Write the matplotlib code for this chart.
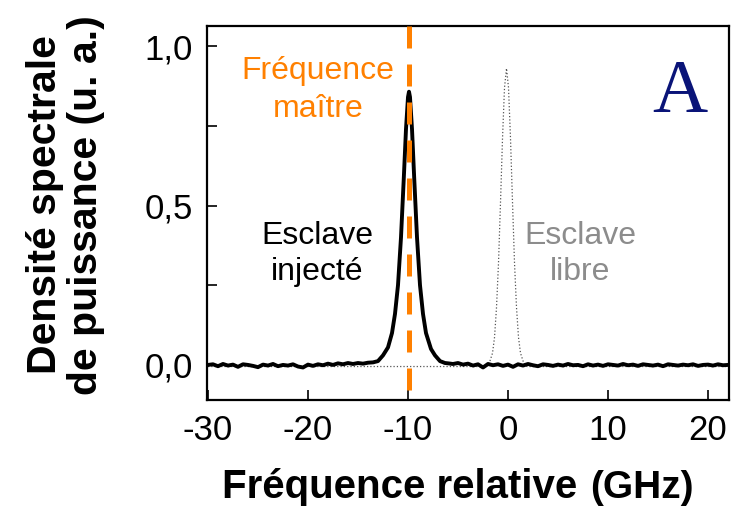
import matplotlib
matplotlib.use("Agg")
import matplotlib.pyplot as plt
from matplotlib.ticker import MultipleLocator, FixedLocator

plt.rcParams['font.family'] = ['Liberation Sans', 'DejaVu Sans']
plt.rcParams['axes.unicode_minus'] = False

# --- DATA ---
# injected slave spectrum (black solid line), GHz vs a.u.
inj_x = [-30.0, -29.5, -29.0, -28.5, -28.0, -27.5, -27.0, -26.5, -26.0, -25.5,
         -25.0, -24.5, -24.0, -23.5, -23.0, -22.5, -22.0, -21.5, -21.0, -20.5,
         -20.0, -19.5, -19.0, -18.5, -18.0, -17.5, -17.0, -16.5, -16.0, -15.5,
         -15.0, -14.5, -14.0, -13.5,
         -13.0, -12.5, -12.0, -11.6, -11.3, -11.0, -10.7, -10.4, -10.2, -10.0,
         -9.9, -9.8, -9.6, -9.4, -9.1, -8.8, -8.5, -8.2, -7.7, -7.3, -6.8, -6.3,
         -6.0, -5.5, -5.0, -4.5, -4.0, -3.5, -3.0, -2.5, -2.0, -1.5,
         -1.0, -0.5, 0.0, 0.5, 1.0, 1.5, 2.0, 2.5, 3.0, 3.5,
         4.0, 4.5, 5.0, 5.5, 6.0, 6.5, 7.0, 7.5, 8.0, 8.5,
         9.0, 9.5, 10.0, 10.5, 11.0, 11.5, 12.0, 12.5, 13.0, 13.5,
         14.0, 14.5, 15.0, 15.5, 16.0, 16.5, 17.0, 17.5, 18.0, 18.5,
         19.0, 19.5, 20.0, 20.5, 21.0, 21.5, 22.0]
inj_y = [0.000, 0.002, -0.004, 0.003, -0.002, 0.001, -0.006, 0.002, 0.000, -0.003,
         -0.007, 0.001, -0.002, 0.003, -0.004, 0.000, -0.002, 0.002, -0.005, -0.008,
         0.001, -0.003, 0.002, -0.001, 0.004, 0.000, 0.005, 0.002, 0.006, 0.003,
         0.006, 0.004, 0.007, 0.008,
         0.012, 0.030, 0.055, 0.100, 0.160, 0.250, 0.400, 0.600, 0.740, 0.840,
         0.857, 0.840, 0.740, 0.600, 0.400, 0.250, 0.160, 0.100, 0.050, 0.030, 0.012, 0.006,
         0.005, 0.003, 0.006, 0.001, 0.004, -0.002, 0.002, -0.008, 0.003, -0.001,
         0.002, -0.003, 0.001, -0.006, 0.002, -0.002, 0.003, -0.001, -0.004, 0.002,
         0.000, -0.003, 0.001, -0.002, 0.003, -0.001, 0.000, -0.004, 0.002, -0.002,
         0.001, -0.003, 0.002, 0.000, -0.002, 0.003, -0.001, 0.001, -0.003, 0.002,
         0.000, -0.002, 0.001, -0.004, 0.002, 0.000, -0.002, 0.001, -0.001, 0.002,
         -0.003, 0.000, 0.001, -0.002, 0.002, -0.001, 0.000]

# free-running slave spectrum (grey dotted line)
free_x = [-30.0, -20.0, -10.0, -4.0, -2.2, -1.85, -1.55, -1.35, -1.15, -0.95,
          -0.75, -0.55, -0.35, -0.15, 0.05, 0.25, 0.45, 0.65, 0.85, 1.05,
          1.25, 1.55, 1.9, 4.0, 10.0, 22.0]
free_y = [-0.005, -0.005, -0.005, -0.005, -0.005, 0.008, 0.037, 0.086, 0.180, 0.320,
          0.510, 0.710, 0.870, 0.930, 0.870, 0.710, 0.510, 0.320, 0.180, 0.086,
          0.037, 0.008, -0.005, -0.005, -0.005, -0.005]

master_freq = -9.9
x_ticks = [-30, -20, -10, 0, 10, 20]
y_ticks = [0.0, 0.5, 1.0]
y_tick_labels = ['0,0', '0,5', '1,0']

ORANGE = '#FF8000'
GREY_TXT = '#8C8C8C'
NAVY = '#0A1478'

# --- FIGURE ---
fig = plt.figure(figsize=(7.4, 5.15), dpi=100)
ax = fig.add_axes([0.2797, 0.2233, 0.7048, 0.7262])

ax.plot(free_x, free_y, color='#555555', linestyle=':', linewidth=0.9, zorder=1)
ax.plot(inj_x, inj_y, color='black', linewidth=2.8, zorder=2)
ax.plot([master_freq, master_freq], [1.063, -0.11], color=ORANGE, linewidth=3.6,
        dashes=(4.4, 3.2), zorder=3, clip_on=False)

ax.set_xlim(-30.1, 22.05)
ax.set_ylim(-0.11, 1.063)

ax.xaxis.set_major_locator(FixedLocator(x_ticks))
ax.yaxis.set_major_locator(FixedLocator(y_ticks))
ax.set_yticklabels(y_tick_labels)
ax.yaxis.set_minor_locator(MultipleLocator(0.25))

ax.tick_params(axis='both', which='both', direction='in', length=7, width=1.2,
               labelsize=25, top=False, right=False)
ax.tick_params(axis='x', pad=10)
ax.tick_params(axis='y', pad=10)
for sp in ax.spines.values():
    sp.set_linewidth(1.6)

# annotations inside axes
ax.text(-19.0, 0.897, 'Fréquence', color=ORANGE, fontsize=23, ha='center', va='baseline')
ax.text(-19.0, 0.779, 'maître', color=ORANGE, fontsize=23, ha='center', va='baseline')
ax.text(-19.1, 0.380, 'Esclave', color='black', fontsize=23, ha='center', va='baseline')
ax.text(-19.1, 0.265, 'injecté', color='black', fontsize=23, ha='center', va='baseline')
ax.text(7.2, 0.380, 'Esclave', color=GREY_TXT, fontsize=23, ha='center', va='baseline')
ax.text(7.2, 0.265, 'libre', color=GREY_TXT, fontsize=23, ha='center', va='baseline')
ax.text(17.2, 0.794, 'A', color=NAVY, fontsize=55, ha='center', va='baseline',
        family=['Liberation Serif', 'DejaVu Serif'])

# axis labels
fig.text(66 / 740, 1 - 205 / 515, 'Densité spectrale\nde puissance (u. a.)',
         rotation=90, ha='center', va='center', fontsize=29.5, fontweight='bold',
         multialignment='center', linespacing=1.1)
fig.text(577 / 740, 17 / 515, 'Fréquence relative', ha='right', va='baseline',
         fontsize=29, fontweight='bold')
fig.text(590 / 740, 17 / 515, '(GHz)', ha='left', va='baseline',
         fontsize=28, fontweight='bold')

fig.savefig('out.png', dpi=100)
